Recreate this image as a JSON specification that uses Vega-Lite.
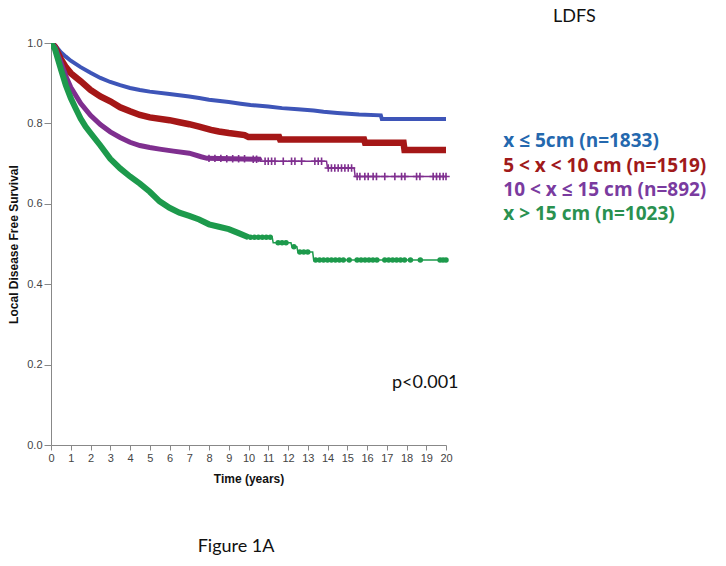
{
  "$schema": "https://vega.github.io/schema/vega-lite/v6.json",
  "width": 395,
  "height": 402,
  "autosize": {"type": "none"},
  "padding": {"left": 51, "top": 43, "right": 280, "bottom": 121},
  "config": {"view": {"stroke": null}, "font": "Liberation Sans"},
  "datasets": {
    "surv": [
      {"g": "blue", "t": 0, "s": 1.0}, {"g": "blue", "t": 0.2, "s": 0.995}, {"g": "blue", "t": 0.5, "s": 0.977}, {"g": "blue", "t": 0.75, "s": 0.966}, {"g": "blue", "t": 1.0, "s": 0.956}, {"g": "blue", "t": 1.5, "s": 0.94}, {"g": "blue", "t": 2.0, "s": 0.926}, {"g": "blue", "t": 2.5, "s": 0.913}, {"g": "blue", "t": 3.0, "s": 0.903}, {"g": "blue", "t": 3.5, "s": 0.895}, {"g": "blue", "t": 4.0, "s": 0.888}, {"g": "blue", "t": 4.5, "s": 0.883}, {"g": "blue", "t": 5.0, "s": 0.879}, {"g": "blue", "t": 6.0, "s": 0.873}, {"g": "blue", "t": 7.0, "s": 0.867}, {"g": "blue", "t": 7.5, "s": 0.863}, {"g": "blue", "t": 8.0, "s": 0.859}, {"g": "blue", "t": 9.0, "s": 0.853}, {"g": "blue", "t": 9.6, "s": 0.849}, {"g": "blue", "t": 10.1, "s": 0.846}, {"g": "blue", "t": 11.0, "s": 0.842}, {"g": "blue", "t": 11.7, "s": 0.838}, {"g": "blue", "t": 12.5, "s": 0.835}, {"g": "blue", "t": 13.3, "s": 0.832}, {"g": "blue", "t": 13.8, "s": 0.829}, {"g": "blue", "t": 14.5, "s": 0.826}, {"g": "blue", "t": 15.6, "s": 0.822}, {"g": "blue", "t": 16.7, "s": 0.82}, {"g": "blue", "t": 16.75, "s": 0.811}, {"g": "blue", "t": 20, "s": 0.811},
      {"g": "red", "t": 0, "s": 1.0}, {"g": "red", "t": 0.2, "s": 0.99}, {"g": "red", "t": 0.5, "s": 0.96}, {"g": "red", "t": 0.75, "s": 0.94}, {"g": "red", "t": 1.0, "s": 0.925}, {"g": "red", "t": 1.5, "s": 0.905}, {"g": "red", "t": 2.0, "s": 0.883}, {"g": "red", "t": 2.5, "s": 0.867}, {"g": "red", "t": 3.0, "s": 0.855}, {"g": "red", "t": 3.5, "s": 0.84}, {"g": "red", "t": 4.0, "s": 0.83}, {"g": "red", "t": 4.5, "s": 0.821}, {"g": "red", "t": 5.0, "s": 0.815}, {"g": "red", "t": 6.0, "s": 0.808}, {"g": "red", "t": 6.5, "s": 0.803}, {"g": "red", "t": 7.0, "s": 0.798}, {"g": "red", "t": 7.5, "s": 0.792}, {"g": "red", "t": 8.1, "s": 0.784}, {"g": "red", "t": 8.5, "s": 0.78}, {"g": "red", "t": 9.0, "s": 0.776}, {"g": "red", "t": 9.8, "s": 0.771}, {"g": "red", "t": 10.0, "s": 0.766}, {"g": "red", "t": 11.55, "s": 0.766}, {"g": "red", "t": 11.6, "s": 0.76}, {"g": "red", "t": 15.85, "s": 0.76}, {"g": "red", "t": 15.9, "s": 0.752}, {"g": "red", "t": 17.85, "s": 0.752}, {"g": "red", "t": 17.9, "s": 0.734}, {"g": "red", "t": 20, "s": 0.734},
      {"g": "purple", "t": 0, "s": 1.0}, {"g": "purple", "t": 0.2, "s": 0.99}, {"g": "purple", "t": 0.5, "s": 0.952}, {"g": "purple", "t": 0.75, "s": 0.918}, {"g": "purple", "t": 1.0, "s": 0.89}, {"g": "purple", "t": 1.25, "s": 0.87}, {"g": "purple", "t": 1.5, "s": 0.85}, {"g": "purple", "t": 2.0, "s": 0.82}, {"g": "purple", "t": 2.5, "s": 0.797}, {"g": "purple", "t": 3.0, "s": 0.779}, {"g": "purple", "t": 3.5, "s": 0.765}, {"g": "purple", "t": 4.0, "s": 0.753}, {"g": "purple", "t": 4.5, "s": 0.745}, {"g": "purple", "t": 5.0, "s": 0.74}, {"g": "purple", "t": 5.5, "s": 0.736}, {"g": "purple", "t": 6.2, "s": 0.731}, {"g": "purple", "t": 7.0, "s": 0.726}, {"g": "purple", "t": 7.6, "s": 0.717}, {"g": "purple", "t": 7.9, "s": 0.713}, {"g": "purple", "t": 10.55, "s": 0.711}, {"g": "purple", "t": 10.6, "s": 0.706}, {"g": "purple", "t": 13.95, "s": 0.706}, {"g": "purple", "t": 14.0, "s": 0.689}, {"g": "purple", "t": 15.35, "s": 0.689}, {"g": "purple", "t": 15.4, "s": 0.668}, {"g": "purple", "t": 20, "s": 0.668},
      {"g": "green", "t": 0, "s": 1.0}, {"g": "green", "t": 0.2, "s": 0.985}, {"g": "green", "t": 0.5, "s": 0.935}, {"g": "green", "t": 0.75, "s": 0.895}, {"g": "green", "t": 1.0, "s": 0.863}, {"g": "green", "t": 1.25, "s": 0.837}, {"g": "green", "t": 1.5, "s": 0.812}, {"g": "green", "t": 1.75, "s": 0.792}, {"g": "green", "t": 2.0, "s": 0.776}, {"g": "green", "t": 2.5, "s": 0.745}, {"g": "green", "t": 3.0, "s": 0.712}, {"g": "green", "t": 3.5, "s": 0.688}, {"g": "green", "t": 4.0, "s": 0.668}, {"g": "green", "t": 4.5, "s": 0.65}, {"g": "green", "t": 5.0, "s": 0.63}, {"g": "green", "t": 5.5, "s": 0.606}, {"g": "green", "t": 6.0, "s": 0.59}, {"g": "green", "t": 6.5, "s": 0.578}, {"g": "green", "t": 7.0, "s": 0.57}, {"g": "green", "t": 7.5, "s": 0.561}, {"g": "green", "t": 8.0, "s": 0.549}, {"g": "green", "t": 8.5, "s": 0.543}, {"g": "green", "t": 9.0, "s": 0.537}, {"g": "green", "t": 9.5, "s": 0.527}, {"g": "green", "t": 10.0, "s": 0.517}, {"g": "green", "t": 11.2, "s": 0.517}, {"g": "green", "t": 11.25, "s": 0.503}, {"g": "green", "t": 12.15, "s": 0.503}, {"g": "green", "t": 12.2, "s": 0.493}, {"g": "green", "t": 12.45, "s": 0.493}, {"g": "green", "t": 12.5, "s": 0.48}, {"g": "green", "t": 13.25, "s": 0.48}, {"g": "green", "t": 13.3, "s": 0.46}, {"g": "green", "t": 20, "s": 0.46}
    ],
    "censor": [
      {"g": "purple", "t": 8.0, "s": 0.713}, {"g": "purple", "t": 8.3, "s": 0.713}, {"g": "purple", "t": 8.6, "s": 0.713}, {"g": "purple", "t": 8.9, "s": 0.712}, {"g": "purple", "t": 9.2, "s": 0.712}, {"g": "purple", "t": 9.5, "s": 0.712}, {"g": "purple", "t": 9.8, "s": 0.712}, {"g": "purple", "t": 10.24, "s": 0.711}, {"g": "purple", "t": 10.41, "s": 0.711},
      {"g": "purple", "t": 10.84, "s": 0.706}, {"g": "purple", "t": 11.0, "s": 0.706}, {"g": "purple", "t": 11.17, "s": 0.706}, {"g": "purple", "t": 11.34, "s": 0.706}, {"g": "purple", "t": 11.76, "s": 0.706}, {"g": "purple", "t": 12.18, "s": 0.706}, {"g": "purple", "t": 12.35, "s": 0.706}, {"g": "purple", "t": 12.69, "s": 0.706}, {"g": "purple", "t": 13.36, "s": 0.706}, {"g": "purple", "t": 13.53, "s": 0.706}, {"g": "purple", "t": 13.7, "s": 0.706},
      {"g": "purple", "t": 14.04, "s": 0.689}, {"g": "purple", "t": 14.2, "s": 0.689}, {"g": "purple", "t": 14.37, "s": 0.689}, {"g": "purple", "t": 14.54, "s": 0.689}, {"g": "purple", "t": 14.71, "s": 0.689}, {"g": "purple", "t": 14.88, "s": 0.689}, {"g": "purple", "t": 15.05, "s": 0.689}, {"g": "purple", "t": 15.22, "s": 0.689},
      {"g": "purple", "t": 15.5, "s": 0.668}, {"g": "purple", "t": 15.64, "s": 0.668}, {"g": "purple", "t": 15.89, "s": 0.668}, {"g": "purple", "t": 16.06, "s": 0.668}, {"g": "purple", "t": 16.31, "s": 0.668}, {"g": "purple", "t": 16.48, "s": 0.668}, {"g": "purple", "t": 16.9, "s": 0.668}, {"g": "purple", "t": 17.41, "s": 0.668}, {"g": "purple", "t": 17.75, "s": 0.668}, {"g": "purple", "t": 17.92, "s": 0.668}, {"g": "purple", "t": 18.51, "s": 0.668}, {"g": "purple", "t": 18.68, "s": 0.668}, {"g": "purple", "t": 19.35, "s": 0.668}, {"g": "purple", "t": 19.52, "s": 0.668}, {"g": "purple", "t": 19.69, "s": 0.668}, {"g": "purple", "t": 19.86, "s": 0.668}, {"g": "purple", "t": 20.0, "s": 0.668},
      {"g": "green", "t": 10.1, "s": 0.517}, {"g": "green", "t": 10.3, "s": 0.517}, {"g": "green", "t": 10.5, "s": 0.517}, {"g": "green", "t": 10.7, "s": 0.517}, {"g": "green", "t": 10.9, "s": 0.517}, {"g": "green", "t": 11.1, "s": 0.517},
      {"g": "green", "t": 11.5, "s": 0.503}, {"g": "green", "t": 11.7, "s": 0.503}, {"g": "green", "t": 11.9, "s": 0.503}, {"g": "green", "t": 12.3, "s": 0.493},
      {"g": "green", "t": 12.6, "s": 0.48}, {"g": "green", "t": 12.8, "s": 0.48}, {"g": "green", "t": 13.0, "s": 0.48},
      {"g": "green", "t": 13.4, "s": 0.46}, {"g": "green", "t": 13.6, "s": 0.46}, {"g": "green", "t": 13.8, "s": 0.46}, {"g": "green", "t": 14.0, "s": 0.46}, {"g": "green", "t": 14.2, "s": 0.46}, {"g": "green", "t": 14.4, "s": 0.46}, {"g": "green", "t": 14.6, "s": 0.46}, {"g": "green", "t": 14.8, "s": 0.46}, {"g": "green", "t": 15.1, "s": 0.46},
      {"g": "green", "t": 15.5, "s": 0.46}, {"g": "green", "t": 15.7, "s": 0.46}, {"g": "green", "t": 15.9, "s": 0.46}, {"g": "green", "t": 16.1, "s": 0.46}, {"g": "green", "t": 16.3, "s": 0.46}, {"g": "green", "t": 16.5, "s": 0.46},
      {"g": "green", "t": 16.9, "s": 0.46}, {"g": "green", "t": 17.1, "s": 0.46}, {"g": "green", "t": 17.3, "s": 0.46}, {"g": "green", "t": 17.5, "s": 0.46}, {"g": "green", "t": 17.7, "s": 0.46}, {"g": "green", "t": 17.9, "s": 0.46}, {"g": "green", "t": 18.2, "s": 0.46},
      {"g": "green", "t": 18.7, "s": 0.46}, {"g": "green", "t": 19.7, "s": 0.46}, {"g": "green", "t": 19.85, "s": 0.46}, {"g": "green", "t": 20.0, "s": 0.46}
    ],
    "legendText": [
      {"g": "blue", "label": "x ≤ 5cm (n=1833)", "t": 22.9, "s": 0.756},
      {"g": "red", "label": "5 < x < 10 cm (n=1519)", "t": 22.9, "s": 0.695},
      {"g": "purple", "label": "10 < x ≤ 15 cm (n=892)", "t": 22.9, "s": 0.635},
      {"g": "green", "label": "x > 15 cm (n=1023)", "t": 22.9, "s": 0.575}
    ],
    "notes": [
      {"label": "p<0.001", "t": 18.95, "s": 0.153},
      {"label": "LDFS", "t": 26.5, "s": 1.065},
      {"label": "Figure 1A", "t": 9.37, "s": -0.254}
    ]
  },
  "encoding": {
    "x": {
      "field": "t", "type": "quantitative",
      "scale": {"domain": [0, 20], "nice": false},
      "axis": {
        "title": "Time (years)", "values": [0,1,2,3,4,5,6,7,8,9,10,11,12,13,14,15,16,17,18,19,20],
        "labelOverlap": false, "labelFlush": false,
        "grid": false, "tickSize": 5, "labelPadding": 2, "labelFontSize": 11, "labelColor": "#444444",
        "labelFont": "Liberation Sans", "domainColor": "#888888", "tickColor": "#888888",
        "titleFont": "Liberation Sans", "titleFontSize": 12, "titleFontWeight": "bold", "titleColor": "#111111", "titlePadding": 10
      }
    },
    "y": {
      "field": "s", "type": "quantitative",
      "scale": {"domain": [0, 1], "nice": false, "zero": false},
      "axis": {
        "title": "Local Disease Free Survival", "values": [0, 0.2, 0.4, 0.6, 0.8, 1.0], "format": ".1f",
        "labelOverlap": false, "labelFlush": false,
        "grid": false, "tickSize": 7, "labelPadding": 2, "labelFontSize": 11, "labelColor": "#444444",
        "labelFont": "Liberation Sans", "domainColor": "#888888", "tickColor": "#888888",
        "titleFont": "Liberation Sans", "titleFontSize": 12, "titleFontWeight": "bold", "titleColor": "#111111", "titlePadding": 6
      }
    },
    "color": {
      "field": "g", "type": "nominal",
      "scale": {"domain": ["blue", "red", "purple", "green"], "range": ["#3e55b8", "#a51717", "#7f2f8f", "#1d9a4c"]},
      "legend": null
    }
  },
  "layer": [
    {
      "data": {"name": "surv"},
      "transform": [{"filter": "datum.g == 'blue'"}],
      "mark": {"type": "line", "clip": true, "strokeWidth": 4}
    },
    {
      "data": {"name": "surv"},
      "transform": [{"filter": "datum.g == 'red'"}],
      "mark": {"type": "line", "clip": true, "strokeWidth": 6.5}
    },
    {
      "data": {"name": "surv"},
      "transform": [{"filter": "datum.g == 'purple' && datum.t <= 10.6"}],
      "mark": {"type": "line", "clip": true, "strokeWidth": 5}
    },
    {
      "data": {"name": "surv"},
      "transform": [{"filter": "datum.g == 'purple' && datum.t >= 10.55"}],
      "mark": {"type": "line", "clip": true, "strokeWidth": 1.5}
    },
    {
      "data": {"name": "surv"},
      "transform": [{"filter": "datum.g == 'green' && datum.t <= 10"}],
      "mark": {"type": "line", "clip": true, "strokeWidth": 6}
    },
    {
      "data": {"name": "surv"},
      "transform": [{"filter": "datum.g == 'green' && datum.t >= 10"}],
      "mark": {"type": "line", "clip": true, "strokeWidth": 1.5}
    },
    {
      "data": {"name": "censor"},
      "transform": [{"filter": "datum.g == 'purple'"}],
      "mark": {"type": "point", "shape": "M-1,0L1,0M0,-1L0,1", "filled": false, "size": 55, "strokeWidth": 1.6, "opacity": 1}
    },
    {
      "data": {"name": "censor"},
      "transform": [{"filter": "datum.g == 'green'"}],
      "mark": {"type": "point", "shape": "circle", "filled": true, "size": 30, "opacity": 1}
    },
    {
      "data": {"name": "legendText"},
      "mark": {"type": "text", "align": "left", "baseline": "middle", "font": "Open Sans", "fontSize": 19, "fontWeight": "bold"},
      "encoding": {
        "text": {"field": "label"},
        "color": {
          "field": "g", "type": "nominal",
          "scale": {"domain": ["blue", "red", "purple", "green"], "range": ["#2468ae", "#a01a1a", "#7a3b9f", "#2a9150"]},
          "legend": null
        }
      }
    },
    {
      "data": {"name": "notes"},
      "mark": {"type": "text", "align": "center", "baseline": "middle", "font": "Lato", "fontSize": 18},
      "encoding": {
        "text": {"field": "label"},
        "color": {"value": "#111111"}
      }
    }
  ],
  "resolve": {"scale": {"color": "independent"}}
}
